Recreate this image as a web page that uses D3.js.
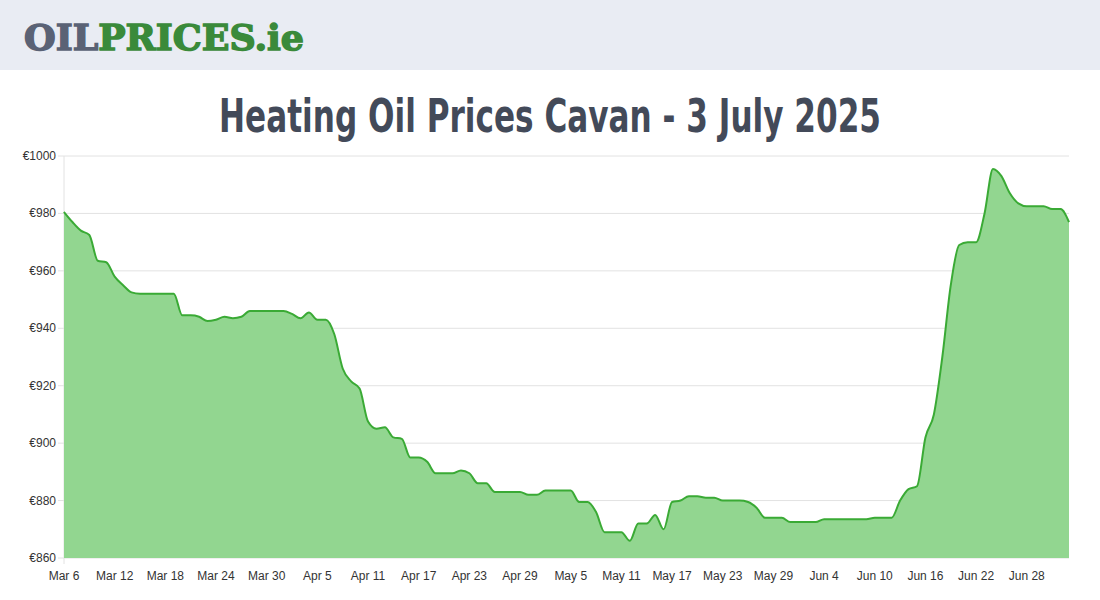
<!DOCTYPE html>
<html><head><meta charset="utf-8">
<script src="https://cdn.jsdelivr.net/npm/d3@7"></script>
<style>
body{margin:0;background:#fff;font-family:Arial,"Liberation Sans",sans-serif;}
</style></head><body>
<script>
var width = 1100, height = 600;
var startDate = new Date(2025, 2, 6);
var prices = [980.5,977,974,972.5,963.5,963,958,955,952.5,952,952,952,952,952,944.5,944.5,944,942.5,943,944,
  943.5,944,946,946,946,946,946,945,943.5,945.5,943,943,938,926,921.5,919,907.5,905,905.5,902,
  901.5,895,895,893.5,889.5,889.5,889.5,890.5,889.5,886,886,883,883,883,883,882,882,883.5,883.5,883.5,
  883.5,879.5,879.5,876,869,869,869,866,872,872,875,870,879.5,880,881.5,881.5,881,881,880,880,
  880,879.5,877.5,874,874,874,872.5,872.5,872.5,872.5,873.5,873.5,873.5,873.5,873.5,873.5,874,874,
  874,880,884,885,902,910,930,955,969,970,970,980,995.5,993,987,983.5,982.5,982.5,982.5,981.5,
  981.5,977];
var yTicks = [860,880,900,920,940,960,980,1000];

var data = prices.map(function(v, i) { return {date: d3.timeDay.offset(startDate, i), v: v}; });

var svg = d3.select('body').append('svg').attr('width', width).attr('height', height);

// header
svg.append('rect').attr('width', width).attr('height', 70).attr('fill', '#e9ecf3');
var logo = svg.append('text').attr('x', 24).attr('y', 50)
  .attr('textLength', 280).attr('lengthAdjust', 'spacingAndGlyphs')
  .style('font-family', '"DejaVu Serif",serif').style('font-weight', 'bold').style('font-size', '36px')
  .attr('stroke-width', 1.5);
logo.append('tspan').attr('fill', '#5a6275').attr('stroke', '#5a6275').text('OIL');
logo.append('tspan').attr('fill', '#3a8a3a').attr('stroke', '#3a8a3a').text('PRICES.ie');

svg.append('text').attr('x', 219).attr('y', 132)
  .attr('textLength', 662).attr('lengthAdjust', 'spacingAndGlyphs')
  .style('font-family', '"DejaVu Sans",sans-serif')
  .style('font-weight', 'bold').style('font-size', '46px').attr('fill', '#434a59')
  .text('Heating Oil Prices Cavan - 3 July 2025');

var x = d3.scaleTime().domain([startDate, data[data.length - 1].date]).range([64, 1069]);
var y = d3.scaleLinear().domain([860, 1000]).range([558, 156]);

// grid
svg.selectAll('.grid').data(yTicks).enter().append('line')
  .attr('x1', 58).attr('x2', 1069)
  .attr('y1', function(d) { return y(d); }).attr('y2', function(d) { return y(d); })
  .attr('stroke', '#e2e2e2');
svg.append('line').attr('x1', 64).attr('x2', 64).attr('y1', 156).attr('y2', 564).attr('stroke', '#e2e2e2');

var area = d3.area().curve(d3.curveMonotoneX)
  .x(function(d) { return x(d.date); }).y0(y(860)).y1(function(d) { return y(d.v); });
var line = d3.line().curve(d3.curveMonotoneX)
  .x(function(d) { return x(d.date); }).y(function(d) { return y(d.v); });

svg.append('path').datum(data).attr('d', area).attr('fill', '#92d690');
svg.append('path').datum(data).attr('d', line).attr('fill', 'none')
  .attr('stroke', '#3aaa35').attr('stroke-width', 2);

// y labels
svg.selectAll('.yl').data(yTicks).enter().append('text')
  .attr('x', 56).attr('y', function(d) { return y(d) + 4; })
  .attr('text-anchor', 'end').style('font-size', '12px').attr('fill', '#333')
  .text(function(d) { return '€' + d; });

// x labels every 6 days
var xTicks = d3.range(0, prices.length, 6).map(function(i) { return data[i].date; });
var fmt = d3.timeFormat('%b %-d');
svg.selectAll('.xl').data(xTicks).enter().append('text')
  .attr('x', function(d) { return x(d); }).attr('y', 580)
  .attr('text-anchor', 'middle').style('font-size', '12px').attr('fill', '#333')
  .text(function(d) { return fmt(d); });
</script>
</body></html>
